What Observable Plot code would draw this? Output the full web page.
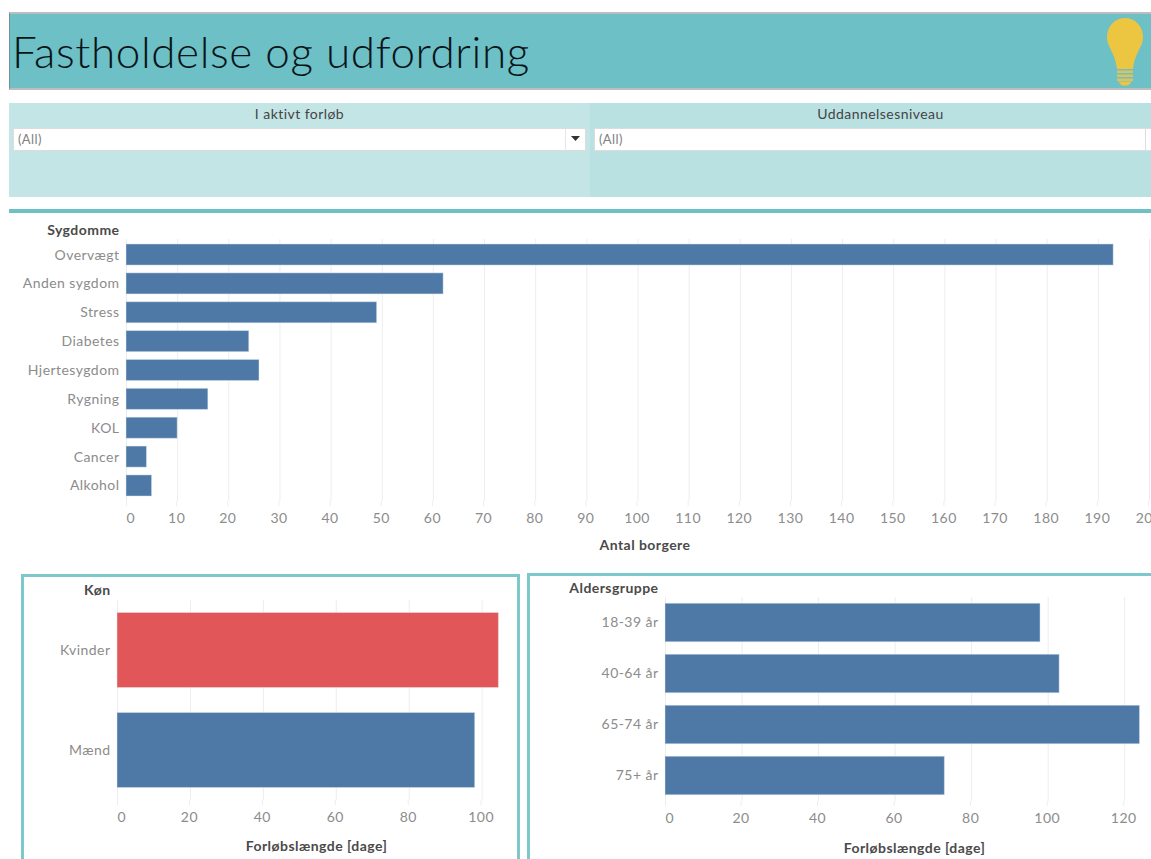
<!DOCTYPE html>
<html lang="da">
<head>
<meta charset="utf-8">
<script src="https://cdn.jsdelivr.net/npm/d3@7"></script>
<script src="https://cdn.jsdelivr.net/npm/@observablehq/plot@0.6"></script>
<style>
html,body{margin:0;padding:0;width:1151px;height:859px;overflow:hidden;background:#fff;font-family:Lato,"Noto Sans",sans-serif;}
.abs{position:absolute;box-sizing:border-box;}
.ftitle{font-size:14px;color:#444;text-align:center;letter-spacing:.45px;}
.sel{background:#fff;border:1px solid #dcdcdc;font-size:13px;color:#808080;padding:2px 4px;line-height:16px;letter-spacing:.4px;}
svg{overflow:hidden;}
</style>
</head>
<body>
<div class="abs" style="left:9px;top:12px;width:1142px;height:78px;background:#6cc0c6;border-top:2px solid #bdbdbd;border-bottom:2px solid #bdbdbd;border-left:1px solid #6f8f92;"></div>
<div class="abs" style="left:12px;top:24px;font:300 44px/54px Lato,'Open Sans',sans-serif;color:#0a1418;white-space:nowrap;letter-spacing:.6px;">Fastholdelse og udfordring</div>
<svg class="abs" style="left:1100px;top:14px" width="50" height="74" viewBox="0 0 50 74">
  <path d="M25 4C15 4 7 12 7 23C7 33 15 38 17 55H33C35 38 43 33 43 23C43 12 35 4 25 4Z" fill="#ecc640"/>
  <rect x="17" y="56.5" width="16" height="2.5" fill="#dcc35c"/><rect x="17" y="60.5" width="16" height="2.5" fill="#dcc35c"/><rect x="17" y="64.5" width="16" height="2.5" fill="#dcc35c"/>
  <path d="M18 67.5H32L28 71.5H22Z" fill="#ecc640"/>
</svg>

<div class="abs" style="left:9px;top:103px;width:581px;height:94px;background:#c3e5e6"></div>
<div class="abs" style="left:590px;top:103px;width:561px;height:94px;background:#bae1e2"></div>
<div class="abs ftitle" style="left:9px;top:105px;width:581px;">I aktivt forløb</div>
<div class="abs ftitle" style="left:610px;top:105px;width:541px;">Uddannelsesniveau</div>
<div class="abs sel" style="left:13px;top:128px;width:573px;height:23px;">(All)</div>
<div class="abs" style="left:565px;top:129px;width:1px;height:21px;background:#e6e6e6"></div>
<svg class="abs" style="left:571px;top:136px" width="10" height="6"><path d="M0 0H9L4.5 5Z" fill="#333"/></svg>
<div class="abs sel" style="left:594px;top:128px;width:552px;height:23px;">(All)</div>
<div class="abs" style="left:1146px;top:128px;width:5px;height:23px;background:#fff;border-top:1px solid #dcdcdc;border-bottom:1px solid #dcdcdc"></div>
<div class="abs" style="left:9px;top:209px;width:1142px;height:4px;background:#6cc0c6"></div>

<div class="abs" style="left:21px;top:574px;width:499px;height:300px;border:3px solid #7cc8cd"></div>
<div class="abs" style="left:527px;top:573px;width:640px;height:300px;border:3px solid #7cc8cd"></div>

<div id="c1" class="abs" style="left:0;top:215px"></div>
<div id="c2" class="abs" style="left:24px;top:577px"></div>
<div id="c3" class="abs" style="left:530px;top:576px"></div>

<script>
const sygdomme = ["Overvægt","Anden sygdom","Stress","Diabetes","Hjertesygdom","Rygning","KOL","Cancer","Alkohol"];
const antalBorgere = [193,62,49,24,26,16,10,4,5];
const sygdommeTicks = d3.range(10,201,10);

const koen = ["Kvinder","Mænd"];
const koenDage = [104.6,98.1];
const koenFarver = ["#e15759","#4e79a7"];
const koenTicks = [20,40,60,80,100];

const aldersgrupper = ["18-39 år","40-64 år","65-74 år","75+ år"];
const alderDage = [98,103,124,73];
const alderTicks = [20,40,60,80,100,120];

const GRID = "#ededed", TICK = "#8c8c8c", HEAD = "#4a4a4a";

function chart({cats, vals, ticks, xMax, w, h, ml, mr, mt, mb, pi, po, head, headDy, xLabel, labelDx, labelDy, color}) {
  return Plot.plot({
    width:w, height:h, marginLeft:ml, marginRight:mr, marginTop:mt, marginBottom:mb,
    style:{background:"transparent", fontFamily:"Lato, 'Noto Sans', sans-serif", fontSize:"14px", letterSpacing:".45px", overflow:"hidden"},
    x:{domain:[0,xMax], label:null},
    y:{domain:cats, paddingInner:pi, paddingOuter:po, round:false, label:null},
    color: color ? {domain:cats, range:color} : undefined,
    marks:[
      Plot.gridX([0,...ticks],{stroke:GRID, strokeOpacity:1}),
      Plot.ruleY([0],{frameAnchor:"bottom", stroke:GRID}),
      Plot.axisX([...ticks],{anchor:"bottom", tickSize:5, tickPadding:7, stroke:GRID, fill:TICK, label:null, fontSize:14, dx:-1, tickFormat:d=>d}),
      Plot.axisX([0],{anchor:"bottom", tickSize:5, tickPadding:7, stroke:GRID, fill:TICK, label:null, fontSize:14, textAnchor:"start", tickFormat:d=>d}),
      Plot.barX(vals,{x:d=>d, y:(d,i)=>cats[i], fill: color ? (d,i)=>cats[i] : "#4e79a7", stroke:"#dfe8f0", strokeOpacity:.45, strokeWidth:1}),
      Plot.axisY({anchor:"left", tickSize:0, tickPadding:7, fill:TICK, label:null, fontSize:14}),
      Plot.text([head],{frameAnchor:"top-left", textAnchor:"end", dx:-7, dy:headDy, fill:HEAD, fontWeight:700, fontSize:14}),
      Plot.text([xLabel],{frameAnchor:"bottom", dx:labelDx, dy:labelDy, fill:HEAD, fontWeight:700, fontSize:14})
    ]
  });
}

document.getElementById("c1").append(chart({
  cats:sygdomme, vals:antalBorgere, ticks:sygdommeTicks, xMax:200,
  w:1151,h:345,ml:126,mr:2,mt:24,mb:59,pi:.27,po:.173,
  head:"Sygdomme",headDy:-14,xLabel:"Antal borgere",labelDx:7,labelDy:48
}));
document.getElementById("c2").append(chart({
  cats:koen, vals:koenDage, ticks:koenTicks, xMax:109.7,
  w:493,h:282,ml:93,mr:0,mt:23,mb:59,pi:.25,po:.125,
  head:"Køn",headDy:-15,xLabel:"Forløbslængde [dage]",labelDx:-1,labelDy:50,color:koenFarver
}));
document.getElementById("c3").append(chart({
  cats:aldersgrupper, vals:alderDage, ticks:alderTicks, xMax:127,
  w:621,h:283,ml:135,mr:0,mt:21,mb:58,pi:.245,po:.1225,
  head:"Aldersgruppe",headDy:-14,xLabel:"Forløbslængde [dage]",labelDx:6,labelDy:51
}));
</script>
</body>
</html>
